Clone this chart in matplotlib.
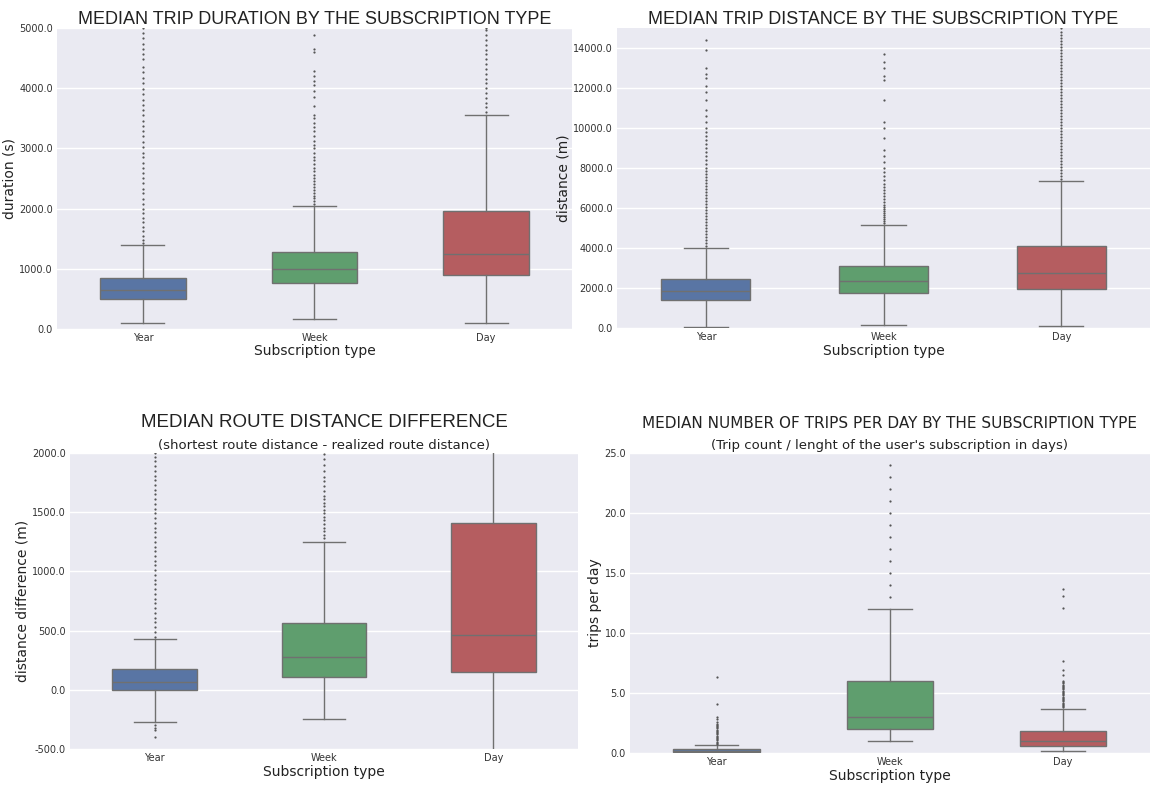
import numpy as np
import matplotlib
matplotlib.use('Agg')
import matplotlib.pyplot as plt
from matplotlib.ticker import FormatStrFormatter

# ---------------------------------------------------------------------------
# data
# ---------------------------------------------------------------------------
categories = ['Year', 'Week', 'Day']
box_colors = ['#5975a4', '#5f9e6e', '#b55d60']

# duration (s): whisker low, Q1, median, Q3, whisker high
dur_stats = [
    [90, 500, 650, 850, 1400],
    [160, 760, 1000, 1270, 2040],
    [100, 900, 1250, 1960, 3550],
]
dur_fliers = [
    [1420, 1480, 1550, 1620, 1700, 1780, 1850, 1930, 2000, 2080, 2160, 2250, 2330,
     2420, 2500, 2590, 2680, 2760, 2850, 2930, 3020, 3110, 3200, 3280, 3370, 3460,
     3550, 3640, 3720, 3810, 3900, 3990, 4080, 4170, 4260, 4350, 4480, 4560, 4650,
     4740, 4830, 4920, 5000],
    [2080, 2120, 2170, 2210, 2260, 2300, 2350, 2400, 2450, 2500, 2550, 2620, 2680,
     2740, 2800, 2860, 2930, 3000, 3060, 3130, 3200, 3280, 3350, 3420, 3500, 3560,
     3700, 3850, 3950, 4050, 4120, 4200, 4280, 4600, 4650, 4880],
    [3600, 3680, 3760, 3840, 3920, 4000, 4080, 4160, 4240, 4320, 4400, 4480, 4560,
     4640, 4720, 4800, 4880, 4960, 5000],
]

# distance (m)
dist_stats = [
    [50, 1400, 1880, 2450, 4030],
    [180, 1760, 2350, 3100, 5150],
    [100, 1960, 2780, 4120, 7350],
]
dist_fliers = [
    [4100, 4250, 4400, 4550, 4700, 4850, 5000, 5150, 5300, 5450, 5600, 5750, 5900,
     6050, 6200, 6350, 6500, 6650, 6800, 6950, 7100, 7250, 7400, 7550, 7700, 7850,
     8000, 8200, 8400, 8600, 8800, 9000, 9200, 9400, 9600, 9800, 10000, 10300,
     10600, 10900, 11400, 11800, 12100, 12500, 12700, 13000, 13900, 14400],
    [5250, 5350, 5450, 5550, 5650, 5750, 5850, 5950, 6050, 6150, 6300, 6450, 6600,
     6750, 6900, 7050, 7200, 7400, 7600, 7800, 8000, 8300, 8600, 8900, 9500, 10000,
     10300, 11400, 12400, 12600, 13000, 13300, 13700],
    [7450, 7600, 7750, 7900, 8050, 8200, 8350, 8500, 8650, 8800, 8950, 9100, 9250,
     9400, 9550, 9700, 9850, 10000, 10150, 10300, 10450, 10600, 10750, 10900, 11050,
     11200, 11350, 11500, 11650, 11800, 11950, 12100, 12250, 12400, 12550, 12700,
     12850, 13000, 13150, 13300, 13450, 13600, 13750, 13900, 14050, 14200, 14350,
     14500, 14650, 14800, 15000],
]

# route distance difference (m)
diff_stats = [
    [-270, 0, 65, 175, 430],
    [-250, 105, 275, 565, 1250],
    [-600, 150, 460, 1410, 2100],
]
diff_fliers = [
    [-300, -320, -340, -400, 450, 490, 530, 570, 610, 650, 690, 730, 770, 810, 850,
     890, 930, 970, 1010, 1050, 1090, 1130, 1170, 1210, 1250, 1290, 1330, 1370, 1410,
     1450, 1490, 1530, 1570, 1610, 1650, 1690, 1730, 1770, 1810, 1850, 1890, 1930,
     1970, 2000],
    [1280, 1310, 1340, 1370, 1400, 1430, 1460, 1490, 1520, 1550, 1580, 1610, 1640,
     1680, 1720, 1760, 1800, 1850, 1900, 1950, 1990],
    [],
]

# trips per day
trips_stats = [
    [0.0, 0.05, 0.15, 0.3, 0.65],
    [1.0, 2.0, 3.0, 6.0, 12.0],
    [0.15, 0.55, 1.0, 1.85, 3.7],
]
trips_fliers = [
    [0.75, 0.85, 0.95, 1.05, 1.15, 1.25, 1.35, 1.45, 1.55, 1.65, 1.75, 1.85, 1.95,
     2.05, 2.15, 2.25, 2.35, 2.45, 2.55, 2.8, 3.0, 4.05, 6.35],
    [13, 14, 15, 16, 17, 18, 19, 20, 21, 22, 23, 24],
    [3.8, 3.9, 4.0, 4.1, 4.2, 4.3, 4.4, 4.5, 4.6, 4.7, 4.8, 4.9, 5.0, 5.1, 5.2,
     5.3, 5.4, 5.5, 5.6, 5.7, 5.8, 5.9, 6.0, 6.5, 6.9, 7.7, 12.1, 13.1, 13.7],
]

# ---------------------------------------------------------------------------
plt.rcParams['font.family'] = ['DejaVu Sans']
fig = plt.figure(figsize=(11.52, 7.85), dpi=100)
fig.patch.set_facecolor('white')

line_col = '#707070'


def draw_panel(rect, stats, fliers, ylim, yticks, ylabel):
    ax = fig.add_axes(rect)
    ax.set_facecolor('#eaeaf2')
    ax.set_axisbelow(True)
    ax.grid(axis='y', color='white', lw=1)
    bstats = []
    for i, s in enumerate(stats):
        bstats.append(dict(whislo=s[0], q1=s[1], med=s[2], q3=s[3], whishi=s[4],
                           fliers=fliers[i], label=categories[i]))
    bp = ax.bxp(bstats, positions=range(len(categories)), widths=0.5,
                patch_artist=True,
                boxprops=dict(edgecolor=line_col, lw=1),
                whiskerprops=dict(color=line_col, lw=1),
                capprops=dict(color=line_col, lw=1),
                medianprops=dict(color=line_col, lw=1),
                flierprops=dict(marker='o', markersize=1.6, markerfacecolor='#555555',
                                markeredgecolor='none', linestyle='none'))
    for patch, c in zip(bp['boxes'], box_colors):
        patch.set_facecolor(c)
    for cap in bp['caps']:
        x = cap.get_xdata()
        mid = x.mean()
        cap.set_xdata([mid - 0.125, mid + 0.125])
    ax.set_xlim(-0.5, 2.5)
    ax.set_ylim(*ylim)
    ax.set_yticks(yticks)
    ax.yaxis.set_major_formatter(FormatStrFormatter('%.1f'))
    ax.tick_params(axis='both', length=0, labelsize=7, colors='#333333', pad=3)
    ax.set_ylabel(ylabel, fontsize=10, color='#222222', labelpad=2)
    ax.set_xlabel('Subscription type', fontsize=10, color='#222222', labelpad=1)
    for sp in ax.spines.values():
        sp.set_visible(False)
    return ax


ax1 = draw_panel([0.0495, 0.581, 0.447, 0.3834], dur_stats, dur_fliers,
                 (0, 5000), [0, 1000, 2000, 3000, 4000, 5000], 'duration (s)')
ax1.set_title('MEDIAN TRIP DURATION BY THE SUBSCRIPTION TYPE', fontsize=13,
              family='Liberation Sans', color='#222222', pad=2)

ax2 = draw_panel([0.5356, 0.582, 0.4627, 0.382], dist_stats, dist_fliers,
                 (0, 15000), [0, 2000, 4000, 6000, 8000, 10000, 12000, 14000],
                 'distance (m)')
ax2.set_title('MEDIAN TRIP DISTANCE BY THE SUBSCRIPTION TYPE', fontsize=13,
              family='Liberation Sans', color='#222222', pad=2)

ax3 = draw_panel([0.0608, 0.0459, 0.441, 0.377], diff_stats, diff_fliers,
                 (-500, 2000), [-500, 0, 500, 1000, 1500, 2000],
                 'distance difference (m)')
ax3.text(0.5, 1.075, 'MEDIAN ROUTE DISTANCE DIFFERENCE', transform=ax3.transAxes,
         ha='center', va='bottom', fontsize=13.5, family='Liberation Sans', color='#222222')
ax3.text(0.5, 1.005, '(shortest route distance - realized route distance)',
         transform=ax3.transAxes, ha='center', va='bottom', fontsize=9.5, color='#222222')

ax4 = draw_panel([0.547, 0.0408, 0.451, 0.382], trips_stats, trips_fliers,
                 (0, 25), [0, 5, 10, 15, 20, 25], 'trips per day')
ax4.text(0.5, 1.075, 'MEDIAN NUMBER OF TRIPS PER DAY BY THE SUBSCRIPTION TYPE',
         transform=ax4.transAxes, ha='center', va='bottom', fontsize=11, color='#222222')
ax4.text(0.5, 1.005, "(Trip count / lenght of the user's subscription in days)",
         transform=ax4.transAxes, ha='center', va='bottom', fontsize=9.5, color='#222222')

fig.savefig('out.png', dpi=100)
